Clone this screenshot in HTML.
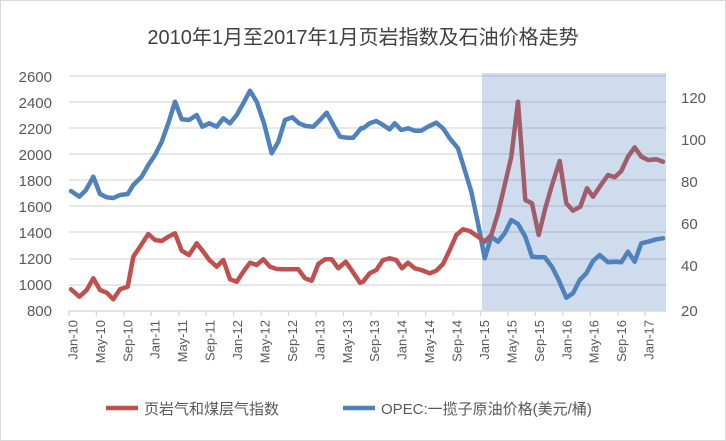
<!DOCTYPE html>
<html><head><meta charset="utf-8"><style>
body{margin:0;background:#fff}
svg{display:block;font-family:"Liberation Sans","Noto Sans CJK SC",sans-serif}
</style></head><body>
<svg width="726" height="441" viewBox="0 0 726 441" xmlns="http://www.w3.org/2000/svg">
<rect x="0.5" y="0.5" width="725" height="440" fill="#fff" stroke="#d9d9d9"/>
<text x="363" y="44" text-anchor="middle" font-size="20" fill="#404040">2010年1月至2017年1月页岩指数及石油价格走势</text>
<g stroke="#d9d9d9" stroke-width="1.3">
<line x1="69" y1="76" x2="666" y2="76"/><line x1="69" y1="102" x2="666" y2="102"/>
<line x1="69" y1="128" x2="666" y2="128"/><line x1="69" y1="154" x2="666" y2="154"/>
<line x1="69" y1="180" x2="666" y2="180"/><line x1="69" y1="206" x2="666" y2="206"/>
<line x1="69" y1="232" x2="666" y2="232"/><line x1="69" y1="259" x2="666" y2="259"/>
<line x1="69" y1="285" x2="666" y2="285"/><line x1="69" y1="311" x2="666" y2="311"/>
</g>
<g font-size="15" fill="#595959" text-anchor="end">
<text x="52" y="82">2600</text><text x="52" y="108">2400</text><text x="52" y="134">2200</text>
<text x="52" y="160">2000</text><text x="52" y="186">1800</text><text x="52" y="212">1600</text>
<text x="52" y="238">1400</text><text x="52" y="264">1200</text><text x="52" y="290">1000</text>
<text x="52" y="316">800</text>
</g>
<g font-size="15" fill="#595959">
<text x="681" y="103">120</text><text x="681" y="145">100</text><text x="681" y="187">80</text>
<text x="681" y="229">60</text><text x="681" y="271">40</text><text x="681" y="316">20</text>
</g>
<g fill="none" stroke-width="4.5" stroke-linejoin="round" stroke-linecap="round">
<polyline stroke="#4f81bd" points="71,191 79.3,196.7 86,190 93.3,176.7 100,194 106.7,197.3 113.3,198 120,195 127.7,194 133.3,185 141.7,176.7 148.3,165 155,155 161.7,141.7 168.3,123.3 175,101.7 181.7,119.3 189,120 196.7,115 202.3,126.7 209.3,123.3 216.7,126.7 223.3,118.3 230,123.3 236.7,115 243.3,103.3 250,90.7 256.7,101.7 264,123.3 271.7,153.3 278.3,141.7 285,120 292.3,117.3 299,123.3 305.7,126 313.3,126.7 320,120 326.7,112.7 333.3,125 340,136.7 346.7,137.7 353.3,137.7 361,128.3 363,128.3 369.7,123.3 376.3,121 383,125 389.7,129.3 394.7,123.3 401.3,130 408,128.3 414.7,130.7 421.3,130.7 428,126.7 436.3,122.7 443,128.3 449.7,138.3 458,148.3 464.7,170 471.3,191.7 478,223.3 484.7,258.3 491.3,236.7 498,241.7 504.7,233.3 511.3,220 518,224 525.3,236.7 532,256.7 538.7,257.3 544.7,257.3 552,266.7 558.7,280 566.3,297.7 573,293.3 579.7,280 586.3,273.3 593,261 599.7,255 608,262.3 614.7,261.7 621.3,262.3 628,251.7 634.7,261.7 641.3,243.3 648,241.7 656.3,239.3 663,238.3"/>
<polyline stroke="#c0504d" points="71,289.3 79.3,296.7 86.7,290 93.3,278.3 100,290 106.7,292.7 113.3,299.3 120,289.3 127.7,286.7 133.3,256.7 140,246.7 148.3,234 155,240 161.7,241 168.3,236.7 175,233.3 181.7,250.7 189,255 196.7,243.3 203.3,251.7 209.3,260 216.7,266.7 223.3,260 230,279.3 236.7,281.7 243.3,271.7 250,262.7 256.7,265 263.3,259.3 270,266.7 276.7,269 283.3,269.3 290,269.3 298.3,269.3 305,278.3 311.7,280.7 318.3,264 325,259.3 331.7,259.3 338.3,268.3 345.7,261.7 353.3,272.7 360,282.7 363,281.7 369.7,273.3 376.3,270 383,260 389.7,258.3 396.3,260 402,268.3 408,262.7 414.7,268.3 421.3,270 429.7,273.3 436.3,270.7 443,264 449.7,250 456.3,235 463,229.3 469.7,231 478,236.7 484.7,241.7 491.3,235 498,213.3 504.7,185 511.3,156.7 518,101.7 525.3,200 532,203.3 538.7,235 545.3,208.3 552,185 559.7,161 566.3,203.3 573,210.7 580.3,206.7 587,188.3 593,196.7 599.7,186.7 608,175 614.7,177.3 621.3,171 628,156.7 634.7,147.3 641.3,156.7 648,160 656.3,159.3 663,161.7"/>
</g>
<rect x="482" y="73" width="184" height="238" fill="rgba(79,129,189,0.28)"/>
<g stroke="#d9d9d9" stroke-width="1.3">
<line x1="69" y1="311" x2="666" y2="311"/>
<line x1="69" y1="311" x2="69" y2="316"/><line x1="96.4" y1="311" x2="96.4" y2="316"/>
<line x1="123.9" y1="311" x2="123.9" y2="316"/><line x1="151.3" y1="311" x2="151.3" y2="316"/>
<line x1="178.8" y1="311" x2="178.8" y2="316"/><line x1="206.2" y1="311" x2="206.2" y2="316"/>
<line x1="233.6" y1="311" x2="233.6" y2="316"/><line x1="261.1" y1="311" x2="261.1" y2="316"/>
<line x1="288.5" y1="311" x2="288.5" y2="316"/><line x1="315.9" y1="311" x2="315.9" y2="316"/>
<line x1="343.4" y1="311" x2="343.4" y2="316"/><line x1="370.8" y1="311" x2="370.8" y2="316"/>
<line x1="398.3" y1="311" x2="398.3" y2="316"/><line x1="425.7" y1="311" x2="425.7" y2="316"/>
<line x1="453.1" y1="311" x2="453.1" y2="316"/><line x1="480.6" y1="311" x2="480.6" y2="316"/>
<line x1="508" y1="311" x2="508" y2="316"/><line x1="535.4" y1="311" x2="535.4" y2="316"/>
<line x1="562.9" y1="311" x2="562.9" y2="316"/><line x1="590.3" y1="311" x2="590.3" y2="316"/>
<line x1="617.8" y1="311" x2="617.8" y2="316"/><line x1="645.2" y1="311" x2="645.2" y2="316"/>
</g>
<g font-size="13" fill="#595959" text-anchor="end">
<text transform="translate(77.4,320) rotate(-90)">Jan-10</text>
<text transform="translate(104.9,320) rotate(-90)">May-10</text>
<text transform="translate(132.3,320) rotate(-90)">Sep-10</text>
<text transform="translate(159.7,320) rotate(-90)">Jan-11</text>
<text transform="translate(187.2,320) rotate(-90)">May-11</text>
<text transform="translate(214.6,320) rotate(-90)">Sep-11</text>
<text transform="translate(242,320) rotate(-90)">Jan-12</text>
<text transform="translate(269.5,320) rotate(-90)">May-12</text>
<text transform="translate(296.9,320) rotate(-90)">Sep-12</text>
<text transform="translate(324.4,320) rotate(-90)">Jan-13</text>
<text transform="translate(351.8,320) rotate(-90)">May-13</text>
<text transform="translate(379.2,320) rotate(-90)">Sep-13</text>
<text transform="translate(406.7,320) rotate(-90)">Jan-14</text>
<text transform="translate(434.1,320) rotate(-90)">May-14</text>
<text transform="translate(461.5,320) rotate(-90)">Sep-14</text>
<text transform="translate(489,320) rotate(-90)">Jan-15</text>
<text transform="translate(516.4,320) rotate(-90)">May-15</text>
<text transform="translate(543.8,320) rotate(-90)">Sep-15</text>
<text transform="translate(571.3,320) rotate(-90)">Jan-16</text>
<text transform="translate(598.7,320) rotate(-90)">May-16</text>
<text transform="translate(626.2,320) rotate(-90)">Sep-16</text>
<text transform="translate(653.6,320) rotate(-90)">Jan-17</text>
</g>
<line x1="106" y1="408" x2="138" y2="408" stroke="#c0504d" stroke-width="4.5"/>
<text x="144" y="414" font-size="15" fill="#595959">页岩气和煤层气指数</text>
<line x1="343" y1="408" x2="375" y2="408" stroke="#4f81bd" stroke-width="4.5"/>
<text x="381" y="414" font-size="15" fill="#595959">OPEC:一揽子原油价格(美元/桶)</text>
</svg>
</body></html>
